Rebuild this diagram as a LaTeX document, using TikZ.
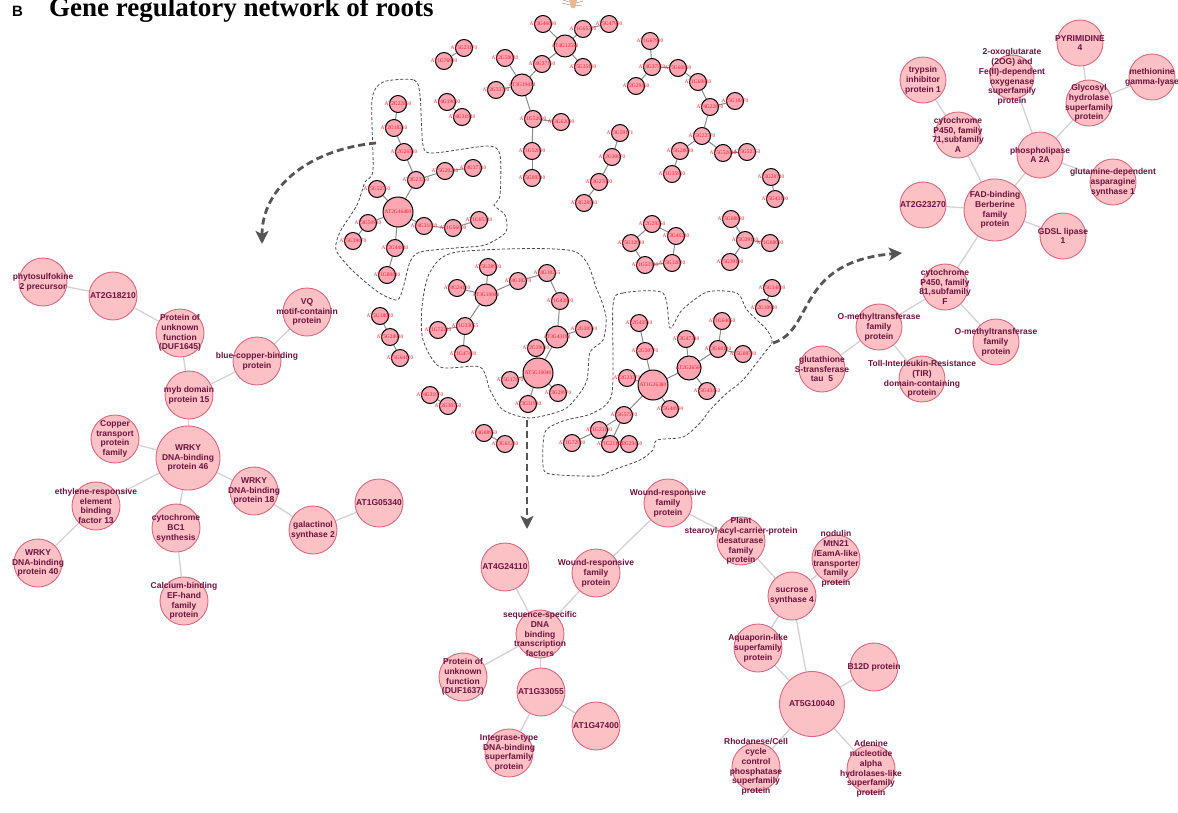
\documentclass[tikz,border=0pt]{standalone}
\usepackage{fontspec}
\setmainfont{Liberation Serif}
\newfontfamily\lsans{Liberation Sans}
\usetikzlibrary{arrows.meta}

\definecolor{bigfill}{HTML}{FBC1C5}
\definecolor{bigborder}{HTML}{D8687E}
\definecolor{bigtextc}{HTML}{6E1240}
\definecolor{smfill}{HTML}{FFA6B2}
\definecolor{smtextc}{HTML}{F01E2C}
\definecolor{edgegray}{HTML}{D2D2D2}
\definecolor{smedgec}{HTML}{8A8A8A}
\definecolor{arrowgray}{HTML}{555555}
\definecolor{regiongray}{HTML}{4A4A4A}
\definecolor{roottan}{HTML}{E8B890}

\pgfdeclarelayer{bg}
\pgfdeclarelayer{edges}
\pgfdeclarelayer{labels}
\pgfsetlayers{bg,edges,main,labels}

\tikzset{
  bigc/.style={circle, draw=bigborder, fill=bigfill, line width=0.9pt, inner sep=0pt},
  bigt/.style={text=bigtextc, font=\lsans\bfseries\fontsize{8.5}{9.8}\selectfont, align=center, inner sep=0pt},
  smc/.style={circle, draw=black, fill=smfill, line width=1pt, inner sep=0pt},
  smt/.style={text=smtextc, font=\rmfamily\fontsize{5.4}{6}\selectfont, inner sep=0pt},
  bigedge/.style={draw=edgegray, line width=1.3pt},
  smedge/.style={draw=smedgec, line width=1pt},
  region/.style={draw=regiongray, line width=0.8pt, dash pattern=on 3pt off 2pt},
  bigarrow/.style={draw=arrowgray, line width=2.8pt, dash pattern=on 7pt off 4pt,
    -{Stealth[length=13pt,width=13pt,inset=3pt]}}
}

% large labelled gene: name, position, diameter, text
\newcommand{\gene}[4]{%
  \node[bigc, minimum size=#3pt] (#1) at (#2) {};
  \begin{pgfonlayer}{labels}\node[bigt] at (#1.center) {#4};\end{pgfonlayer}}
% small gene of the overview network
\newcommand{\sgene}[4]{%
  \node[smc, minimum size=#3pt] (#1) at (#2) {};
  \begin{pgfonlayer}{labels}\node[smt] at (#1.center) {#4};\end{pgfonlayer}}
% connectors between named nodes
\newcommand{\links}[2]{%
  \begin{pgfonlayer}{edges}\foreach \p/\q in {#2} \draw[#1] (\p) -- (\q);\end{pgfonlayer}}

\begin{document}
\begin{tikzpicture}[x=1pt,y=-1pt]
\useasboundingbox (0,0) rectangle (1178,812);
\begin{pgfonlayer}{bg}\fill[white] (0,0) rectangle (1178,812);\end{pgfonlayer}

% heading
\node[anchor=base west, inner sep=0pt] (panel) at (12,16) {\lsans\bfseries\fontsize{15}{16}\selectfont B};
\node[anchor=base west, inner sep=0pt] (title) at (49,16) {\bfseries\fontsize{27}{30}\selectfont Gene regulatory network of roots};

% root sketch at the top edge
\fill[roottan] (569,0) -- (577,0) -- (575,8) -- (571,8) -- cycle;
\draw[gray, line width=0.4pt] (569,2) -- (563,0) (570,5) -- (562,3) (576,3) -- (583,1) (575,6) -- (582,5);

% ---------------- overview network ----------------
% top tree
\sgene{a1}{543,24}{17}{AT3G46090}
\sgene{a2}{583,29}{17}{AT1G65310}
\sgene{a3}{609,24}{17}{AT5G47990}
\sgene{a4}{565,46}{22}{AT4G12550}
\sgene{a5}{583,67}{17}{AT5G35190}
\sgene{a6}{542,64}{17}{AT4G37160}
\sgene{a7}{505,58}{17}{AT2G50080}
\sgene{a8}{522,85}{22}{AT3G19430}
\sgene{a9}{496,90}{17}{AT2G33790}
\sgene{a10}{533,119}{17}{AT1G52690}
\sgene{a11}{561,122}{17}{AT3G62090}
\sgene{a12}{532,151}{17}{AT1G52090}
\sgene{a13}{532,178}{17}{AT5G09540}
\links{smedge}{a1/a4,a2/a4,a2/a3,a5/a4,a6/a4,a6/a8,a7/a8,a9/a8,a8/a10,a10/a11,a10/a12,a12/a13}

\sgene{b1}{444,61}{17}{AT1G76930}
\sgene{b2}{464,48}{17}{AT5G23170}
\sgene{b3}{447,102}{17}{AT4G19690}
\sgene{b4}{462,117}{17}{AT4G31940}
\links{smedge}{b1/b2,b3/b4}

% roots group around AT2G46400
\sgene{c1}{398,104}{17}{AT2G22860}
\sgene{c2}{394,128}{17}{AT2G18210}
\sgene{c3}{404,152}{17}{AT2G26530}
\sgene{c4}{416,180}{17}{AT3G23250}
\sgene{c5}{445,171}{17}{AT5G20230}
\sgene{c6}{473,168}{17}{AT4G37710}
\sgene{c7}{377,189}{17}{AT5G52760}
\sgene{c8}{398,212}{30}{AT2G46400}
\sgene{c9}{368,223}{17}{AT3G50930}
\sgene{c10}{353,241}{17}{AT5G39670}
\sgene{c11}{424,226}{17}{AT4G31800}
\sgene{c12}{453,228}{17}{AT1G56600}
\sgene{c13}{479,220}{17}{AT1G05340}
\sgene{c14}{395,248}{17}{AT2G44840}
\sgene{c15}{387,275}{17}{AT1G80840}
\links{smedge}{c1/c2,c2/c3,c3/c4,c4/c5,c5/c6,c4/c8,c7/c8,c9/c8,c9/c10,c8/c11,c11/c12,c12/c13,c8/c14,c14/c15}

% upper right chains
\sgene{g1}{650,41}{17}{AT1G67980}
\sgene{g2}{652,67}{17}{AT4G37370}
\sgene{g3}{678,68}{17}{AT5G60890}
\sgene{g4}{636,86}{17}{AT2G29460}
\sgene{g5}{698,82}{17}{AT1G69880}
\sgene{g6}{710,107}{17}{AT4G22870}
\sgene{g7}{735,101}{17}{AT5G18470}
\sgene{g8}{702,136}{17}{AT5G22570}
\sgene{g9}{680,151}{17}{AT5G28080}
\sgene{g10}{672,174}{17}{AT1G35910}
\sgene{g11}{723,153}{17}{AT5G52640}
\sgene{g12}{747,152}{17}{AT5G52750}
\links{smedge}{g1/g2,g2/g4,g2/g3,g3/g5,g5/g6,g6/g7,g6/g8,g8/g9,g9/g10,g8/g11,g11/g12}

\sgene{h1}{620,133}{17}{AT3G59171}
\sgene{h2}{612,157}{17}{AT2G30870}
\sgene{h3}{599,182}{17}{AT3G27690}
\sgene{h4}{584,203}{17}{AT3G28510}
\links{smedge}{h1/h2,h2/h3,h3/h4}

\sgene{i1}{771,177}{17}{AT3G28740}
\sgene{i2}{775,199}{17}{AT5G43190}
\links{smedge}{i1/i2}

\sgene{j1}{652,224}{17}{AT2G29350}
\sgene{j2}{676,236}{17}{AT3G46230}
\sgene{j3}{631,243}{17}{AT5G12030}
\sgene{j4}{645,265}{17}{AT1G53540}
\sgene{j5}{672,263}{17}{AT5G12020}
\links{smedge}{j1/j3,j1/j2,j3/j4,j2/j5,j4/j5}

\sgene{k1}{731,219}{17}{AT5G08880}
\sgene{k2}{745,240}{17}{AT5G39110}
\sgene{k3}{770,243}{17}{AT1G08090}
\sgene{k4}{730,262}{17}{AT5G39190}
\links{smedge}{k1/k2,k2/k3,k2/k4}

\sgene{l1}{772,288}{17}{AT5G14800}
\sgene{l2}{764,308}{17}{AT2G10940}
\links{smedge}{l1/l2}

% leaves group around AT1G26380
\sgene{d1}{639,323}{17}{AT2G43510}
\sgene{d2}{645,351}{17}{AT2G30770}
\sgene{d3}{627,378}{17}{AT2G23270}
\sgene{d4}{653,385}{30}{AT1G26380}
\sgene{d5}{686,339}{17}{AT3G47340}
\sgene{d6}{689,368}{24}{AT2G26560}
\sgene{d7}{722,321}{17}{AT1G64660}
\sgene{d8}{718,349}{17}{AT3G60140}
\sgene{d9}{743,354}{17}{AT5G08780}
\sgene{d10}{707,391}{17}{AT5G43450}
\sgene{d11}{670,409}{17}{AT5G40990}
\sgene{d12}{624,415}{17}{AT5G57220}
\sgene{d13}{599,430}{17}{AT1G21110}
\sgene{d14}{572,443}{17}{AT1G72900}
\sgene{d15}{610,444}{17}{AT1G21120}
\sgene{d16}{629,444}{17}{AT2G29450}
\links{smedge}{d1/d2,d2/d4,d3/d4,d4/d6,d5/d6,d6/d8,d8/d7,d8/d9,d6/d10,d4/d11,d4/d12,d12/d13,d12/d15,d13/d14,d15/d16}

% stems group around AT5G10040
\sgene{e1}{488,267}{17}{AT5G38900}
\sgene{e2}{457,288}{17}{AT4G24110}
\sgene{e3}{486,295}{22}{AT3G10040}
\sgene{e4}{518,281}{17}{AT4G10270}
\sgene{e5}{547,273}{17}{AT4G10265}
\sgene{e6}{560,301}{17}{AT1G43800}
\sgene{e7}{465,326}{17}{AT1G33055}
\sgene{e8}{438,330}{17}{AT1G72240}
\sgene{e9}{463,354}{17}{AT1G47400}
\sgene{e10}{557,337}{22}{AT3G43190}
\sgene{e11}{584,329}{17}{AT2G39510}
\sgene{e12}{536,348}{17}{AT2G39010}
\sgene{e13}{538,373}{30}{AT5G10040}
\sgene{e14}{510,380}{17}{AT5G17870}
\sgene{e15}{558,393}{17}{AT3G29970}
\sgene{e16}{528,404}{17}{AT3G11930}
\links{smedge}{e1/e3,e2/e3,e3/e4,e4/e5,e5/e6,e3/e7,e7/e8,e7/e9,e6/e10,e10/e11,e10/e13,e12/e13,e14/e13,e13/e15,e13/e16}

% loose pairs and chains
\sgene{f1}{380,316}{17}{AT5G18020}
\sgene{f2}{390,337}{17}{AT5G28630}
\sgene{f3}{400,358}{17}{AT5G64120}
\sgene{f4}{430,395}{17}{AT4G31970}
\sgene{f5}{448,406}{17}{AT2G30750}
\sgene{f6}{484,433}{17}{AT4G08950}
\sgene{f7}{505,444}{17}{AT3G61280}
\links{smedge}{f1/f2,f2/f3,f4/f5,f6/f7}

% dashed outlines of the three groups
\begin{pgfonlayer}{edges}
\draw[region] plot[smooth cycle, tension=0.45] coordinates {
  (383,82) (414,80) (420,95) (423,145) (433,153) (488,146) (500,155) (500,196)
  (494,205) (505,215) (506,232) (485,245) (455,248) (420,252) (410,262) (403,288)
  (397,300) (378,292) (352,270) (336,250) (340,232) (357,205) (365,182) (373,170) (372,100)};
\draw[region] plot[smooth cycle, tension=0.45] coordinates {
  (430,272) (457,252) (573,251) (597,290) (606,317) (603,340) (590,352) (587,380)
  (577,397) (563,410) (530,418) (503,410) (490,390) (480,367) (440,367) (423,340) (422,307)};
\draw[region] plot[smooth cycle, tension=0.45] coordinates {
  (613,305) (623,293) (663,293) (670,328) (682,310) (707,292) (737,293) (747,310)
  (767,330) (772,342) (765,352) (743,380) (727,393) (710,410) (700,423) (683,437)
  (657,440) (653,450) (640,460) (613,470) (597,476) (550,474) (543,465) (545,432)
  (563,421) (593,413) (612,393)};
\end{pgfonlayer}

% thick arrows to the enlarged groups
\coordinate (lstart) at (376,143);
\coordinate (lend) at (262,244);
\coordinate (mstart) at (527,420);
\coordinate (mend) at (527,529);
\coordinate (rstart) at (773,343);
\coordinate (rend) at (902,253);
\draw[bigarrow] (lstart) .. controls (305,150) and (262,190) .. (lend);
\draw[bigarrow] (mstart) -- (mend);
\draw[bigarrow] (rstart) .. controls (815,330) and (795,262) .. (rend);

% ---------------- roots group, enlarged ----------------
\gene{phyto}{43,282}{48}{phytosulfokine\\2 precursor}
\gene{atxviii}{113,296}{48}{AT2G18210}
\gene{dufA}{180,333}{48}{Protein of\\unknown\\function\\(DUF1645)}
\gene{vq}{307,312}{48}{VQ\\motif-containin\\protein}
\gene{bluecu}{257,361}{48}{blue-copper-binding\\protein}
\gene{mybxv}{189,395}{48}{myb domain\\protein 15}
\gene{wrkyA}{188,458}{64}{WRKY\\DNA-binding\\protein 46}
\gene{copper}{115,439}{48}{Copper\\transport\\protein\\family}
\gene{erf}{96,506}{48}{ethylene-responsive\\element\\binding\\factor 13}
\gene{wrkyB}{254,491}{48}{WRKY\\DNA-binding\\protein 18}
\gene{cytbc}{176,528}{48}{cytochrome\\BC1\\synthesis}
\gene{wrkyC}{38,563}{48}{WRKY\\DNA-binding\\protein 40}
\gene{calcium}{184,601}{48}{Calcium-binding\\EF-hand\\family\\protein}
\gene{galact}{313,530}{48}{galactinol\\synthase 2}
\gene{atv}{379,503}{48}{AT1G05340}
\links{bigedge}{phyto/atxviii,atxviii/dufA,dufA/mybxv,vq/bluecu,bluecu/mybxv,mybxv/wrkyA,copper/wrkyA,erf/wrkyA,wrkyA/wrkyB,wrkyA/cytbc,erf/wrkyC,cytbc/calcium,wrkyB/galact,galact/atv}

% ---------------- leaves group, enlarged ----------------
\gene{trypsin}{923,80}{46}{trypsin\\inhibitor\\protein 1}
\gene{oxo}{1012,77}{44}{2-oxoglutarate\\(2OG) and\\Fe(II)-dependent\\oxygenase\\superfamily\\protein}
\gene{pyr}{1080,43}{46}{PYRIMIDINE\\4}
\gene{methio}{1152,77}{46}{methionine\\gamma-lyase}
\gene{glyco}{1089,103}{46}{Glycosyl\\hydrolase\\superfamily\\protein}
\gene{cypA}{958,135}{46}{cytochrome\\P450, family\\71,subfamily\\A}
\gene{plaA}{1040,155}{46}{phospholipase\\A 2A}
\gene{asn}{1113,182}{46}{glutamine-dependent\\asparagine\\synthase 1}
\gene{atxxiii}{923,205}{46}{AT2G23270}
\gene{fad}{995,210}{62}{FAD-binding\\Berberine\\family\\protein}
\gene{gdsl}{1063,236}{46}{GDSL lipase\\1}
\gene{cypF}{945,287}{46}{cytochrome\\P450, family\\81,subfamily\\F}
\gene{omtA}{879,327}{46}{O-methyltransferase\\family\\protein}
\gene{omtB}{996,342}{46}{O-methyltransferase\\family\\protein}
\gene{gst}{822,369}{46}{glutathione\\S-transferase\\tau\ \ 5}
\gene{tir}{922,379}{46}{Toll-Interleukin-Resistance\\(TIR)\\domain-containing\\protein}
\links{bigedge}{trypsin/cypA,cypA/fad,oxo/plaA,pyr/glyco,methio/glyco,glyco/plaA,plaA/asn,plaA/fad,atxxiii/fad,fad/gdsl,fad/cypF,cypF/omtA,cypF/omtB,omtA/gst,omtA/tir}

% ---------------- stems group, enlarged ----------------
\gene{atxxiv}{505,567}{48}{AT4G24110}
\gene{woundL}{596,573}{48}{Wound-responsive\\family\\protein}
\gene{woundU}{668,503}{48}{Wound-responsive\\family\\protein}
\gene{seqtf}{540,634}{48}{sequence-specific\\DNA\\binding\\transcription\\factors}
\gene{dufB}{463,677}{48}{Protein of\\unknown\\function\\(DUF1637)}
\gene{atxxxiii}{541,692}{48}{AT1G33055}
\gene{atxlvii}{596,726}{48}{AT1G47400}
\gene{integ}{509,753}{48}{Integrase-type\\DNA-binding\\superfamily\\protein}
\gene{plant}{741,541}{48}{Plant\\stearoyl-acyl-carrier-protein\\desaturase\\family\\protein}
\gene{nodulin}{836,559}{48}{nodulin\\MtN21\\/EamA-like\\transporter\\family\\protein}
\gene{sucrose}{792,596}{48}{sucrose\\synthase 4}
\gene{aqua}{758,648}{48}{Aquaporin-like\\superfamily\\protein}
\gene{bxii}{874,667}{48}{B12D protein}
\gene{atx}{812,704}{65}{AT5G10040}
\gene{rhod}{756,767}{48}{Rhodanese/Cell\\cycle\\control\\phosphatase\\superfamily\\protein}
\gene{adenine}{871,769}{48}{Adenine\\nucleotide\\alpha\\hydrolases-like\\superfamily\\protein}
\links{bigedge}{atxxiv/seqtf,woundL/seqtf,woundU/woundL,dufB/seqtf,seqtf/atxxxiii,atxxxiii/atxlvii,atxxxiii/integ,woundU/plant,plant/sucrose,nodulin/sucrose,sucrose/aqua,sucrose/atx,aqua/atx,bxii/atx,atx/rhod,atx/adenine}
\end{tikzpicture}
\end{document}
